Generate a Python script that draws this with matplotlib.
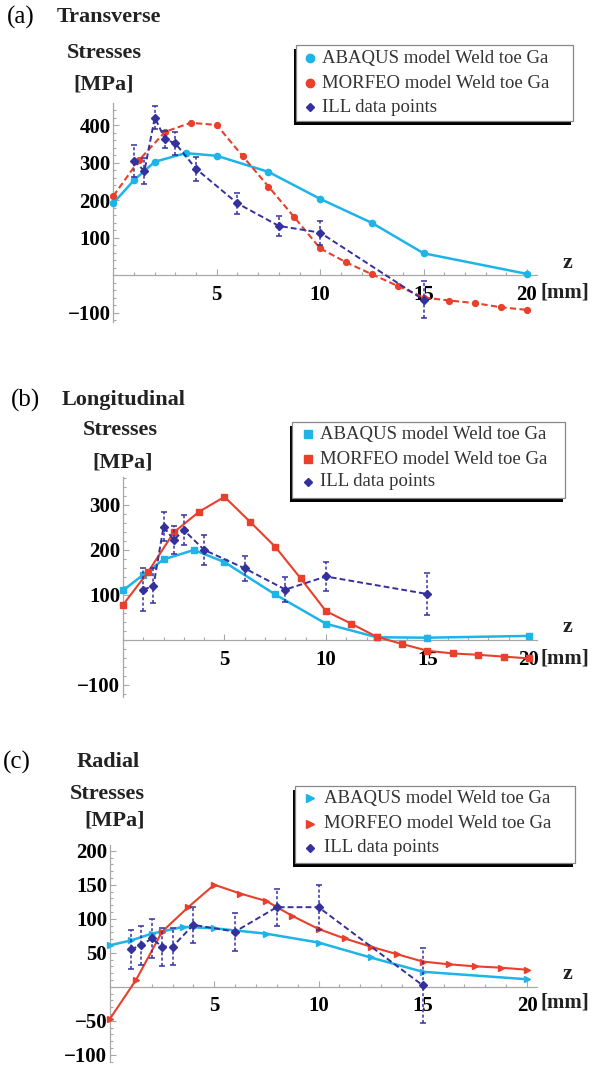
import matplotlib
matplotlib.use('Agg')
import matplotlib.pyplot as plt
from matplotlib.ticker import FixedLocator, MultipleLocator
from matplotlib.patches import Rectangle
from matplotlib.lines import Line2D

# ---------------- data ----------------
abaqus_z = [0, 1, 2, 3.5, 5, 7.5, 10, 12.5, 15, 20]
morfeo_z = [0, 1.25, 2.5, 3.75, 5, 6.25, 7.5, 8.75, 10, 11.25, 12.5,
            13.75, 15, 16.25, 17.5, 18.75, 20]
ill_z = [1, 1.5, 2, 2.5, 3, 4, 6, 8, 10, 15]

trans_abaqus = [192, 253, 302, 325, 318, 275, 203, 139, 58, 3]
trans_morfeo = [211, 307, 382, 406, 400, 317, 236, 154, 71, 34, 2,
                -29, -60, -68, -75, -86, -93]
trans_ill = [305, 277, 420, 362, 351, 283, 191, 131, 113, -66]
trans_ill_err = [43, 34, 30, 22, 30, 32, 28, 26, 32, 49]

long_abaqus = [110, 145, 179, 200, 173, 101, 36, 6, 5, 9]
long_morfeo = [78, 152, 239, 285, 318, 263, 207, 137, 64, 36, 7,
               -9, -24, -30, -33, -37, -41]
long_ill = [112, 120, 252, 222, 244, 200, 159, 112, 141, 102]
long_ill_err = [47, 39, 32, 31, 33, 33, 28, 28, 33, 46]

rad_abaqus = [61, 68, 78, 88, 86, 78, 65, 43, 22, 11]
rad_morfeo = [-47, 10, 81, 117, 150, 137, 126, 104, 85, 71, 59,
              48, 37, 33, 30, 28, 25]
rad_ill = [55, 61, 71, 59, 59, 91, 81, 117, 117, 2]
rad_ill_err = [29, 29, 29, 28, 27, 26, 28, 27, 33, 55]

x_ticks = [5, 10, 15, 20]
trans_yticks = [-100, 100, 200, 300, 400]
long_yticks = [-100, 100, 200, 300]
rad_yticks = [-100, -50, 50, 100, 150, 200]

legend_labels = ["ABAQUS model Weld toe Ga", "MORFEO model Weld toe Ga",
                 "ILL data points"]

# ---------------- style ----------------
W, H = 597, 1068
CYAN = '#1db4e8'
RED = '#e8402c'
BLUE = '#34319c'
AXC = '#a8a8a8'
SERIF = ['Liberation Serif', 'DejaVu Serif']
plt.rcParams['font.family'] = SERIF
plt.rcParams['font.weight'] = 'bold'
plt.rcParams['mathtext.default'] = 'regular'

fig = plt.figure(figsize=(W / 100, H / 100), dpi=100)


def fx(x):
    return x / W


def fy(y):
    return 1 - y / H


panels = [
    dict(rect=(113.4, 102.9, 423.9, 219.0), xlim=(0, 20.5), ylim=(-125, 459),
         ab=trans_abaqus, mo=trans_morfeo, il=trans_ill, ie=trans_ill_err,
         yt=trans_yticks, ymin=20, mk='o', ms=4.5, mo_ls=(0, (3, 1.6)),
         tag='(a)', title='Transverse', tag_xy=(7, 17), title_x=57,
         st_xy=(104, 53), mpa_xy=(104, 84), z_y=263, lab_y=292,
         leg=(296, 45, 573, 121), leg_y=(58, 83, 107), leg_mx=310, leg_tx=322),
    dict(rect=(123.0, 476.6, 414.1, 220.5), xlim=(0, 20.4), ylim=(-127, 363),
         ab=long_abaqus, mo=long_morfeo, il=long_ill, ie=long_ill_err,
         yt=long_yticks, ymin=20, mk='s', ms=4.2, mo_ls='-',
         tag='(b)', title='Longitudinal', tag_xy=(11, 400), title_x=62,
         st_xy=(120, 430), mpa_xy=(123, 462), z_y=627, lab_y=658,
         leg=(292, 422, 565, 498), leg_y=(434, 459, 482), leg_mx=308, leg_tx=320),
    dict(rect=(110.0, 845.3, 426.8, 216.9), xlim=(0, 20.47), ylim=(-111, 208),
         ab=rad_abaqus, mo=rad_morfeo, il=rad_ill, ie=rad_ill_err,
         yt=rad_yticks, ymin=10, mk='>', ms=4.2, mo_ls='-',
         tag='(c)', title='Radial', tag_xy=(3, 762), title_x=77,
         st_xy=(107, 794), mpa_xy=(115, 820), z_y=974, lab_y=1003,
         leg=(295, 786, 575, 863), leg_y=(798, 824, 848), leg_mx=310, leg_tx=324),
]

for p in panels:
    l, t, w, h = p['rect']
    ax = fig.add_axes([fx(l), fy(t + h), w / W, h / H])
    ax.set_xlim(*p['xlim'])
    ax.set_ylim(*p['ylim'])
    for s in ('top', 'right'):
        ax.spines[s].set_visible(False)
    ax.spines['left'].set_position(('data', 0))
    ax.spines['bottom'].set_position(('data', 0))
    for s in ('left', 'bottom'):
        ax.spines[s].set_color(AXC)
        ax.spines[s].set_linewidth(0.9)
    ax.xaxis.set_major_locator(FixedLocator(x_ticks))
    ax.xaxis.set_minor_locator(MultipleLocator(1))
    ax.yaxis.set_major_locator(FixedLocator(p['yt']))
    ax.yaxis.set_minor_locator(MultipleLocator(p['ymin']))
    ax.set_xticklabels([str(v) for v in x_ticks])
    ax.set_yticklabels([str(v).replace('-', '\u2212') for v in p['yt']])
    ax.tick_params(which='both', direction='in', color=AXC, width=0.8)
    ax.tick_params(which='major', length=4.5, labelsize=15)
    ax.tick_params(which='minor', length=2.5)
    ax.tick_params(axis='x', pad=7)
    ax.tick_params(axis='y', pad=2)
    ax.patch.set_alpha(0)

    ax.plot(abaqus_z, p['ab'], color=CYAN, lw=1.8, marker=p['mk'],
            ms=p['ms'], zorder=3, clip_on=False)
    ax.plot(morfeo_z, p['mo'], color=RED, lw=1.5, ls=p['mo_ls'],
            marker=p['mk'], ms=p['ms'] - 0.3, zorder=4, clip_on=False)
    eb = ax.errorbar(ill_z, p['il'], yerr=p['ie'], color=BLUE, lw=1.4,
                     ls=(0, (3, 1.6)), marker='D', ms=4.2, capsize=2.5,
                     elinewidth=1.1, capthick=1.1, zorder=5)
    eb[2][0].set_linestyle((0, (2, 1.5)))

    # titles
    fig.text(fx(p['tag_xy'][0]), fy(p['tag_xy'][1]), p['tag'], ha='left',
             va='center', fontsize=18, fontweight='normal')
    fig.text(fx(p['title_x']), fy(p['tag_xy'][1]), p['title'], ha='left',
             va='center', fontsize=16, fontweight='bold', color='#222222')
    fig.text(fx(p['st_xy'][0]), fy(p['st_xy'][1]), 'Stresses', ha='center',
             va='center', fontsize=16, fontweight='bold', color='#222222')
    fig.text(fx(p['mpa_xy'][0]), fy(p['mpa_xy'][1]), '[MPa]', ha='center',
             va='center', fontsize=16, fontweight='bold', color='#222222')
    fig.text(fx(567), fy(p['z_y']), 'z', ha='center', va='center',
             fontsize=16, fontweight='bold', color='#222222')
    fig.text(fx(541), fy(p['lab_y']), '[mm]', ha='left', va='center',
             fontsize=15, fontweight='bold', color='#222222')

    # legend
    x0, y0, x1, y1 = p['leg']
    fig.add_artist(Rectangle((fx(x0 - 2.5), fy(y1 + 3.5)), (x1 - x0) / W,
                             (y1 - y0) / H, transform=fig.transFigure,
                             facecolor='black', edgecolor='none', zorder=10))
    fig.add_artist(Rectangle((fx(x0), fy(y1)), (x1 - x0) / W, (y1 - y0) / H,
                             transform=fig.transFigure, facecolor='white',
                             edgecolor='#888888', lw=0.9, zorder=11))
    cols = [CYAN, RED, BLUE]
    mks = [p['mk'], p['mk'], 'D']
    msz = [6, 6, 4.5]
    for i in range(3):
        fig.add_artist(Line2D([fx(p['leg_mx'])], [fy(p['leg_y'][i])],
                              transform=fig.transFigure, marker=mks[i],
                              color=cols[i], ms=msz[i], ls='none', zorder=12))
        fig.text(fx(p['leg_tx']), fy(p['leg_y'][i]), legend_labels[i],
                 ha='left', va='center', fontsize=13.5, fontweight='normal',
                 color='#333333', zorder=12)

fig.savefig('out.png', dpi=100)
